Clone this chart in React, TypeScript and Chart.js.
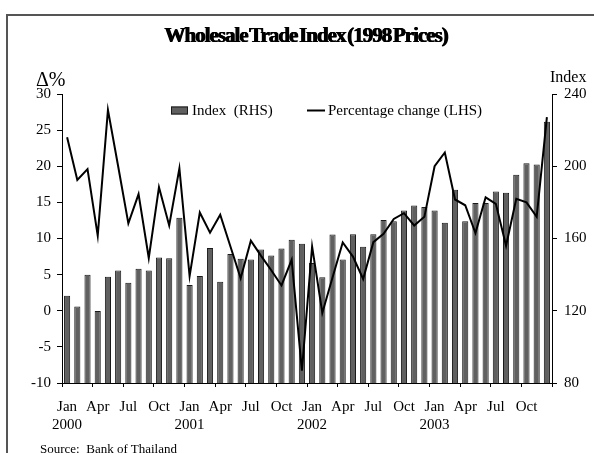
import React, { useEffect, useRef } from 'react';
import { Chart, registerables } from 'chart.js';

Chart.register(...registerables);

const years = ['2000', '2001', '2002', '2003'];
const monthNames = ['Jan', 'Feb', 'Mar', 'Apr', 'May', 'Jun', 'Jul', 'Aug', 'Sep', 'Oct', 'Nov', 'Dec'];
const shownMonths = ['Jan', 'Apr', 'Jul', 'Oct'];

const categories = years.flatMap((y) => monthNames.map((m) => `${m} ${y}`));

// Index (RHS), monthly Jan 2000 - Dec 2003
const indexValues = [
  128.3, 122.3, 139.9, 119.8, 138.8, 142.3, 135.5, 143.2, 142.3, 149.5, 149.1, 171.5,
  134.3, 139.3, 154.7, 136.0, 151.4, 148.8, 148.4, 153.9, 150.6, 154.5, 159.3, 157.1,
  146.5, 138.6, 162.2, 148.4, 162.4, 155.4, 162.4, 170.2, 169.6, 175.5, 178.3, 177.4,
  175.5, 168.7, 187.0, 169.6, 179.6, 179.6, 186.0, 185.3, 195.3, 201.6, 201.0, 224.7,
];

// Percentage change (LHS)
const pctChange = [
  24.0, 18.1, 19.6, 10.4, 27.8, 20.0, 12.1, 16.15, 7.3, 17.1, 11.8, 19.7,
  4.8, 13.6, 10.8, 13.3, 8.9, 4.5, 9.7, 7.6, 5.6, 3.5, 7.05, -8.3,
  8.9, -0.3, 4.6, 9.45, 7.5, 4.4, 9.5, 10.65, 12.7, 13.5, 11.8, 13.0,
  20.0, 21.9, 15.4, 14.6, 10.75, 15.7, 14.8, 9.0, 15.5, 15.0, 13.0, 26.8,
];

const leftMin = -10;
const leftMax = 30;
const leftStep = 5;
const rightMin = 80;
const rightMax = 240;
const rightStep = 40;

const barLabel = 'Index  (RHS)';
const lineLabel = 'Percentage change (LHS)';

const FONT = '"Liberation Serif", "Times New Roman", serif';
const BAR_FILL = '#606060';
const BAR_EDGE = '#1a1a1a';

const legendPlugin = {
  id: 'inlineLegend',
  afterDraw(chart: any) {
    const { ctx, chartArea } = chart;
    const x0 = chartArea.left + 109;
    const y0 = chartArea.top + 16.5;
    ctx.save();
    ctx.fillStyle = BAR_FILL;
    ctx.fillRect(x0, y0 - 4, 17, 8);
    ctx.strokeStyle = BAR_EDGE;
    ctx.lineWidth = 1;
    ctx.strokeRect(x0 + 0.5, y0 - 3.5, 16, 7);
    ctx.fillStyle = '#000';
    ctx.font = `15px ${FONT}`;
    ctx.textBaseline = 'middle';
    ctx.fillText(barLabel, x0 + 21, y0 + 0.5);
    ctx.strokeStyle = '#000';
    ctx.lineWidth = 2;
    ctx.beginPath();
    ctx.moveTo(x0 + 136, y0);
    ctx.lineTo(x0 + 154, y0);
    ctx.stroke();
    ctx.fillText(lineLabel, x0 + 157, y0 + 0.5);
    ctx.restore();
  },
};

export default function App() {
  const ref = useRef<HTMLCanvasElement>(null);

  useEffect(() => {
    Chart.defaults.font.family = FONT;
    Chart.defaults.color = '#000';
    const chart = new Chart(ref.current as HTMLCanvasElement, {
      type: 'bar',
      data: {
        labels: categories,
        datasets: [
          {
            type: 'line',
            label: lineLabel,
            data: pctChange,
            yAxisID: 'yL',
            borderColor: '#000',
            borderWidth: 2,
            pointRadius: 0,
            tension: 0,
            order: 0,
          } as any,
          {
            type: 'bar',
            label: barLabel,
            data: indexValues,
            yAxisID: 'yR',
            backgroundColor: BAR_FILL,
            borderColor: BAR_EDGE,
            borderWidth: 1,
            barPercentage: 0.6,
            categoryPercentage: 1,
            order: 1,
          } as any,
        ],
      },
      options: {
        animation: false,
        responsive: false,
        maintainAspectRatio: false,
        layout: { padding: { top: 94, left: 0, right: 0, bottom: 0 } },
        plugins: {
          legend: { display: false },
          tooltip: { enabled: false },
          title: { display: false },
        },
        scales: {
          x: {
            offset: true,
            grid: {
              offset: true,
              drawOnChartArea: false,
              drawTicks: true,
              tickLength: 4,
              tickColor: (c: any) =>
                c.index === undefined || c.index % 3 === 0 ? '#000' : 'rgba(0,0,0,0)',
            },
            border: { display: true, color: '#000', width: 1 },
            ticks: {
              autoSkip: false,
              maxRotation: 0,
              minRotation: 0,
              padding: 11,
              font: { size: 15, family: FONT },
              color: '#000',
              callback: (_v: any, i: number) => {
                const [m, y] = categories[i].split(' ');
                if (!shownMonths.includes(m)) return '';
                return m === 'Jan' ? [m, y] : m;
              },
            },
            afterFit: (s: any) => {
              s.height = 70;
            },
          },
          yL: {
            type: 'linear',
            position: 'left',
            min: leftMin,
            max: leftMax,
            grid: { drawOnChartArea: false, drawTicks: true, tickLength: 5, tickColor: '#000' },
            border: { display: true, color: '#000', width: 1 },
            ticks: { stepSize: leftStep, padding: 6, font: { size: 15, family: FONT }, color: '#000' },
            afterFit: (s: any) => {
              s.width = 62;
            },
          },
          yR: {
            type: 'linear',
            position: 'right',
            min: rightMin,
            max: rightMax,
            grid: { drawOnChartArea: false, drawTicks: true, tickLength: 5, tickColor: '#000' },
            border: { display: true, color: '#000', width: 1 },
            ticks: { stepSize: rightStep, padding: 7, font: { size: 15, family: FONT }, color: '#000' },
            afterFit: (s: any) => {
              s.width = 42;
            },
          },
        },
      } as any,
      plugins: [legendPlugin],
    });
    return () => chart.destroy();
  }, []);

  const abs = (o: React.CSSProperties): React.CSSProperties => ({
    position: 'absolute',
    whiteSpace: 'pre',
    fontFamily: FONT,
    color: '#000',
    margin: 0,
    ...o,
  });

  return (
    <div
      style={{
        position: 'absolute',
        left: 0,
        top: 0,
        width: 594,
        height: 453,
        overflow: 'hidden',
        background: '#fff',
      }}
    >
      <div
        style={{
          position: 'absolute',
          left: 6,
          top: 14,
          width: 700,
          height: 600,
          border: '2px solid #555',
          boxSizing: 'border-box',
        }}
      />
      <canvas
        ref={ref}
        width={594}
        height={453}
        style={{ position: 'absolute', left: 0, top: 0, width: 594, height: 453, display: 'block' }}
      />
      <div
        style={abs({
          left: 106,
          top: 25,
          width: 400,
          textAlign: 'center',
          fontSize: 21,
          lineHeight: '21px',
          fontWeight: 'bold',
          letterSpacing: '-1px',
          wordSpacing: '-2.5px',
          textShadow: '0.6px 0 0 #000, -0.3px 0 0 #000',
        })}
      >
        Wholesale Trade Index (1998 Prices)
      </div>
      <div style={abs({ left: 36, top: 69, fontSize: 20, lineHeight: '20px' })}>Δ%</div>
      <div style={abs({ left: 550, top: 68.6, fontSize: 16, lineHeight: '16px' })}>Index</div>
      <div style={abs({ left: 40, top: 442, fontSize: 13, lineHeight: '13px' })}>Source:  Bank of Thailand</div>
    </div>
  );
}
